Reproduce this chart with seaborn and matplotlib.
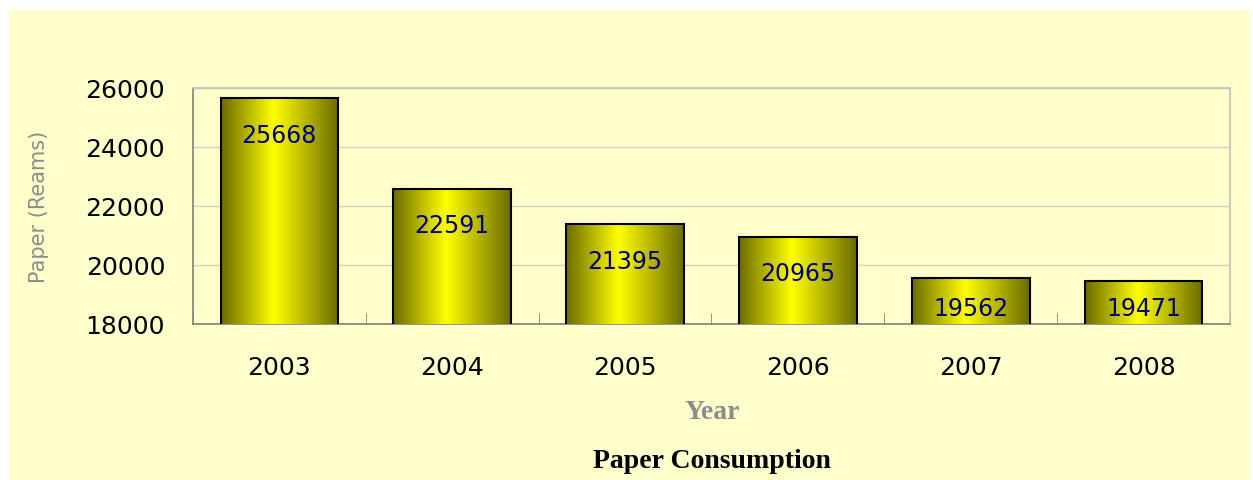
import numpy as np
import pandas as pd
import matplotlib
matplotlib.use("Agg")
import matplotlib.pyplot as plt
import seaborn as sns
from matplotlib.colors import LinearSegmentedColormap
from matplotlib.patches import Rectangle

# data
years = ["2003", "2004", "2005", "2006", "2007", "2008"]
reams = [25668, 22591, 21395, 20965, 19562, 19471]
y_ticks = [18000, 20000, 22000, 24000, 26000]

df = pd.DataFrame({"year": years, "reams": reams})

sns.set_style("white")
plt.rcParams["font.family"] = ["DejaVu Sans"]

bg = "#ffffcc"
fig = plt.figure(figsize=(12.53, 4.81), dpi=100)
fig.patch.set_facecolor("white")
# yellow chart area
fig.patches.append(Rectangle((9 / 1253, 0), 1241 / 1253, 470 / 481,
                             transform=fig.transFigure, facecolor=bg,
                             edgecolor="none", zorder=-10))

ax = fig.add_axes([193 / 1253, 1 - 325 / 481, 1037 / 1253, 236 / 481])
ax.set_facecolor(bg)

sns.barplot(data=df, x="year", y="reams", ax=ax, width=0.68,
            color="#ffff00", edgecolor="black", linewidth=1.5, zorder=3)

ax.set_ylim(18000, 26000)
ax.set_xlim(-0.5, 5.5)
ax.set_yticks(y_ticks)
ax.grid(axis="y", color="#d2d2be", linewidth=1, zorder=0)

# horizontal gradient fill: olive edges, bright yellow centre
cmap = LinearSegmentedColormap.from_list(
    "olive", [(0, "#6b6b00"), (0.45, "#ffff00"), (1, "#6b6b00")])
grad = np.linspace(0, 1, 256).reshape(1, -1)
for bar in ax.patches:
    x0, w = bar.get_x(), bar.get_width()
    h = bar.get_height()
    im = ax.imshow(grad, cmap=cmap, aspect="auto",
                   extent=[x0, x0 + w, 18000, h], zorder=3.5)
    im.set_clip_path(bar)
    bar.set_facecolor("none")
    bar.set_zorder(4)

ax.set_xlim(-0.5, 5.5)
ax.set_ylim(18000, 26000)

for i, v in enumerate(reams):
    ty = max(v - 1250, 18550)
    ax.text(i, ty, str(v), ha="center", va="center", fontsize=17,
            color="#000080", zorder=6)

for side in ["left", "bottom"]:
    ax.spines[side].set_color("#808080")
    ax.spines[side].set_linewidth(1.2)
for side in ["top", "right"]:
    ax.spines[side].set_visible(True)
    ax.spines[side].set_color("#c0c0c0")
    ax.spines[side].set_linewidth(1.2)

# category separator ticks on the x axis
ax.set_xticks(np.arange(-0.5, 6, 1), minor=True)
ax.tick_params(axis="x", which="minor", direction="in", length=8,
               color="#808080", bottom=True)
ax.tick_params(axis="x", which="major", length=0, labelsize=18, pad=22,
               labelcolor="black")
ax.tick_params(axis="y", which="major", length=0, labelsize=18, pad=20,
               labelcolor="black")

ax.set_xlabel("")
ax.set_ylabel("Paper (Reams)", fontsize=15, color="#8c8c8c", labelpad=26)

fig.text(712 / 1253, 1 - 413 / 481, "Year", ha="center", va="center",
         fontsize=20, fontweight="bold", color="#8c8c8c",
         family="Liberation Serif")
fig.text(712 / 1253, 1 - 462 / 481, "Paper Consumption", ha="center",
         va="center", fontsize=20, fontweight="bold", color="black",
         family="Liberation Serif")

fig.savefig("out.png", dpi=100, facecolor=fig.get_facecolor())
